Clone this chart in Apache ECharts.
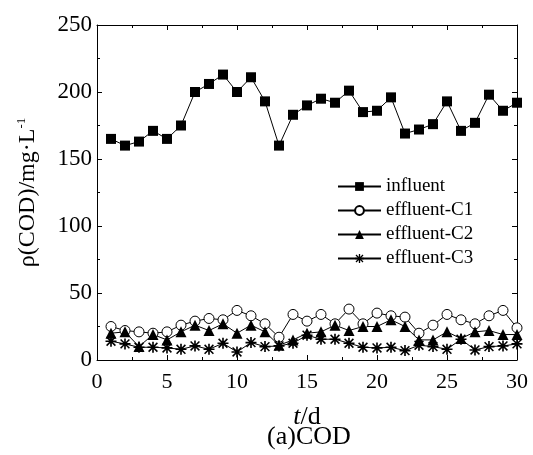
<!DOCTYPE html>
<html>
<head>
<meta charset="utf-8">
<script src="https://cdn.jsdelivr.net/npm/echarts@6/dist/echarts.min.js"></script>
<style>html,body{margin:0;padding:0;background:#fff;}#c{width:533px;height:455px;}</style>
</head>
<body>
<div id="c"></div>
<script>
const days = [1,2,3,4,5,6,7,8,9,10,11,12,13,14,15,16,17,18,19,20,21,22,23,24,25,26,27,28,29,30];
const influent = [165,160,163,171,165,175,200,206,213,200,211,193,160,183,190,195,192,201,185,186,196,169,172,176,193,171,177,198,186,192];
const effluentC1 = [25,22,21,20,21,26,29,31,30,37,33,27,17,34,29,34,27,38,27,35,33,32,20,26,34,30,27,33,37,24];
const effluentC2 = [20,21,10,19,15,21,26,22,27,20,26,21,11,15,20,21,26,22,25,25,30,25,15,15,21,16,21,22,19,19];
const effluentC3 = [14,12,9.5,9.5,9,8,10.5,8,12.5,6,13,10,10.5,12.5,18.5,15.5,15.5,12.5,9.5,9,9.5,7,11,10,8,15.5,7.5,10,10.5,12];
const seriesNames = ['influent','effluent-C1','effluent-C2','effluent-C3'];
const yTicks = [0,50,100,150,200,250];
const xTicks = [0,5,10,15,20,25,30];

const FONT = '"Liberation Serif", "Times New Roman", serif';
const starPath = 'path://M0 8.5L20 8.5L20 11.5L0 11.5ZM8.5 0L11.5 0L11.5 20L8.5 20ZM1 3L3 1L19 17L17 19ZM17 1L19 3L3 19L1 17Z';

function pairs(vals){ return days.map((d,i)=>[d, vals[i]]); }

const chart = echarts.init(document.getElementById('c'), null, {renderer:'canvas'});

const axisCommon = {
  axisLine:{show:true, onZero:false, lineStyle:{color:'#000', width:1}},
  axisTick:{show:true, inside:true, length:5, lineStyle:{color:'#000'}},
  minorTick:{show:true, splitNumber:2, length:3, lineStyle:{color:'#000'}},
  splitLine:{show:false},
  minorSplitLine:{show:false}
};

function mk(name, vals, sym, size, fill){
  return {
    name: name, type:'line', data: pairs(vals),
    symbol: sym, symbolSize: size, showSymbol:true,
    lineStyle:{color:'#000', width:1},
    itemStyle:{color: fill, borderColor:'#000', borderWidth: fill === '#fff' ? 1 : 0},
    emphasis:{disabled:true},
    animation:false
  };
}

chart.setOption({
  animation:false,
  backgroundColor:'#fff',
  textStyle:{fontFamily:FONT},
  grid:{left:97, right:16, top:25, bottom:95},
  xAxis:[
    Object.assign({}, axisCommon, {
      type:'value', min:xTicks[0], max:xTicks[xTicks.length-1], interval:5,
      axisLabel:{show:true, color:'#000', fontFamily:FONT, fontSize:22, margin:11},
      name:'{i|t}/d', nameLocation:'middle', nameGap:44,
      nameTextStyle:{color:'#000', fontFamily:FONT, fontSize:26,
        rich:{i:{fontStyle:'italic', fontFamily:FONT, fontSize:26, color:'#000'}}}
    }),
    Object.assign({}, axisCommon, {
      type:'value', position:'top', min:0, max:30, interval:5,
      axisLabel:{show:false}
    })
  ],
  yAxis:[
    Object.assign({}, axisCommon, {
      type:'value', min:yTicks[0], max:yTicks[yTicks.length-1], interval:50,
      axisLabel:{show:true, color:'#000', fontFamily:FONT, fontSize:23, margin:5},
      name:'ρ(COD)/mg·L{s|-1}', nameLocation:'middle', nameGap:57, nameRotate:90,
      nameTextStyle:{color:'#000', fontFamily:FONT, fontSize:24,
        rich:{s:{fontSize:13, fontFamily:FONT, color:'#000', verticalAlign:'top', padding:[0,0,12,0]}}}
    }),
    Object.assign({}, axisCommon, {
      type:'value', position:'right', min:0, max:250, interval:50,
      axisLabel:{show:false}
    })
  ],
  legend:{
    orient:'vertical', left:332, top:172,
    itemWidth:43, itemHeight:11, itemGap:5,
    data: seriesNames,
    textStyle:{color:'#000', fontFamily:FONT, fontSize:19},
    selectedMode:false
  },
  graphic:[{
    type:'text', x:309, y:437,
    style:{text:'(a)COD', fill:'#000', font:'26px "Liberation Serif"', textAlign:'center', textVerticalAlign:'middle'}
  }],
  series:[
    mk(seriesNames[0], influent, 'rect', 10, '#000'),
    mk(seriesNames[1], effluentC1, 'circle', 10, '#fff'),
    mk(seriesNames[2], effluentC2, 'triangle', 11, '#000'),
    mk(seriesNames[3], effluentC3, starPath, 11, '#000')
  ]
});
</script>
</body>
</html>
